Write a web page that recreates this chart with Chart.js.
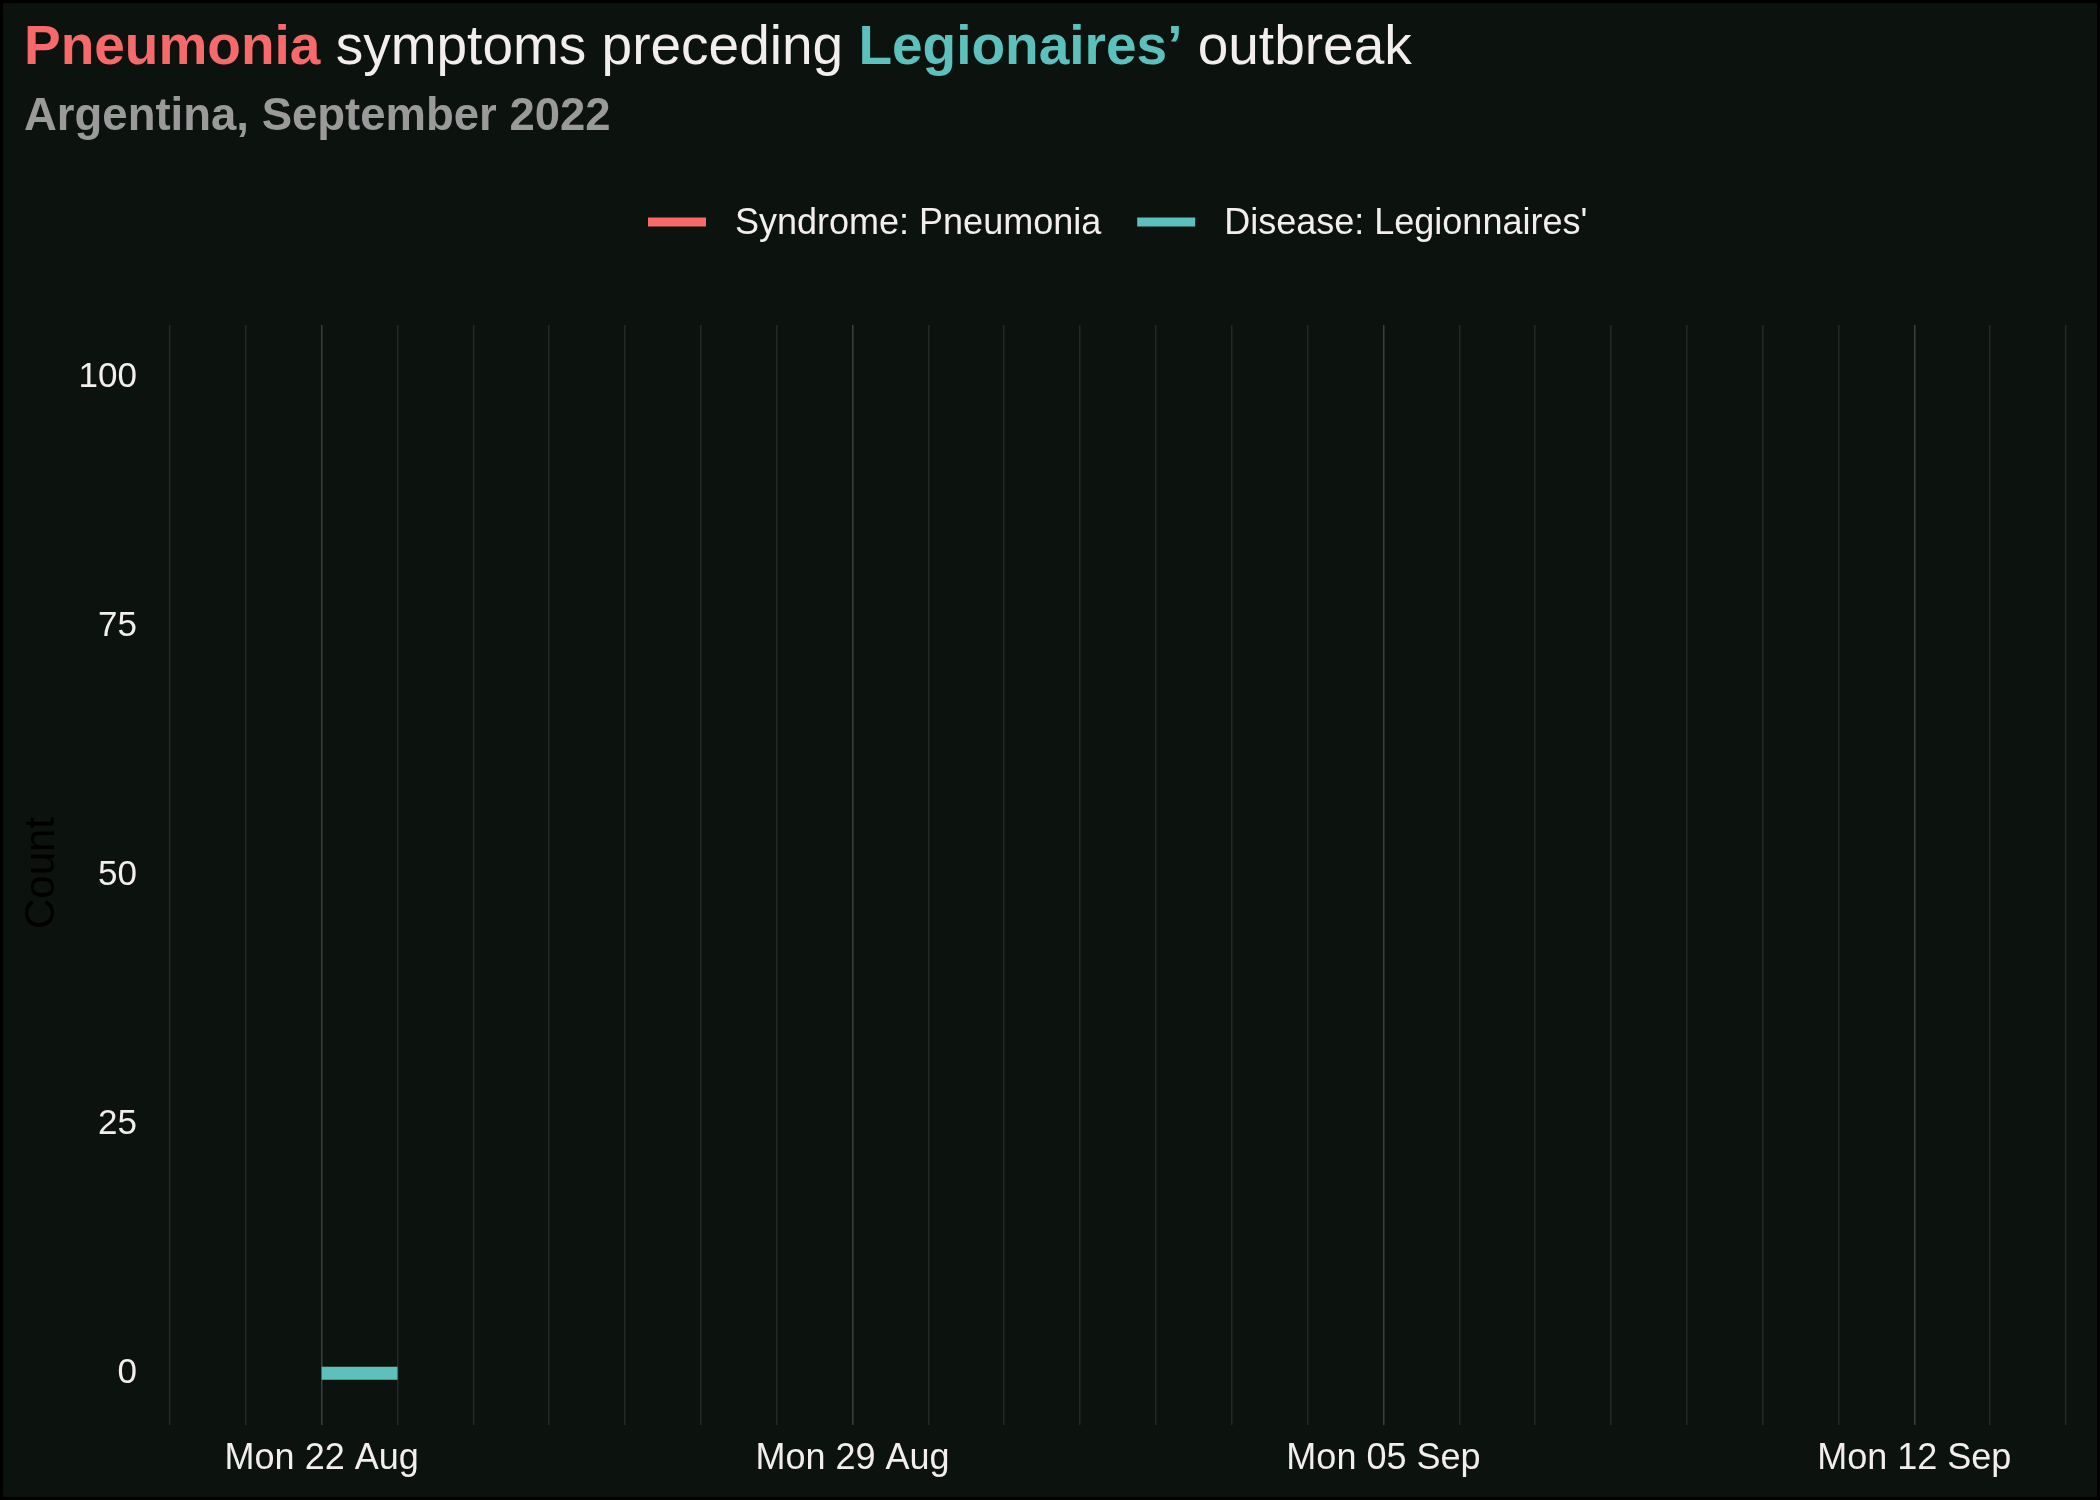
<!DOCTYPE html>
<html lang="en">
<head>
    <meta charset="UTF-8">
    <title>Pneumonia symptoms preceding Legionaires' outbreak</title>
    <script src="https://cdn.jsdelivr.net/npm/chart.js"></script>
    <style>
        body {
            margin: 0;
            padding: 0;
            background: #0c120d;
        }
        canvas {
            display: block;
        }
    </style>
</head>
<body>
    <canvas id="chart" width="2100" height="1500" style="width:2100px;height:1500px"></canvas>

    <script>
        // Data
        const startDate = '2022-08-20';
        const endDate = '2022-09-14';
        const pneumoniaDates = [];
        const pneumoniaCounts = [];
        const legionnairesDates = ['2022-08-22', '2022-08-23'];
        const legionnairesCounts = [0, 0];
        const xTickDates = ['2022-08-22', '2022-08-29', '2022-09-05', '2022-09-12'];
        const xTickLabels = ['Mon 22 Aug', 'Mon 29 Aug', 'Mon 05 Sep', 'Mon 12 Sep'];
        const yTicks = [0, 25, 50, 75, 100];

        const RED = '#f8696b';
        const TEAL = '#5cc1bd';
        const TEXT = '#f3eeee';
        const FONT = '"Liberation Sans", Arial, sans-serif';

        // days since startDate (no date adapter available)
        function dayIndex(d) {
            return (Date.parse(d + 'T00:00:00Z') - Date.parse(startDate + 'T00:00:00Z')) / 86400000;
        }
        const lastDay = dayIndex(endDate);
        const majorDays = xTickDates.map(dayIndex);

        function toPoints(dates, counts) {
            return dates.map((d, i) => ({ x: dayIndex(d), y: counts[i] }));
        }

        // Title, subtitle, legend and axis title drawn on the canvas
        const decorations = {
            id: 'decorations',
            beforeDraw(chart) {
                const c = chart.ctx;
                c.save();
                c.fillStyle = '#0c120d';
                c.fillRect(0, 0, chart.width, chart.height);
                c.restore();
            },
            afterDraw(chart) {
                const c = chart.ctx;
                c.save();

                // title in mixed colours
                const parts = [
                    ['Pneumonia', RED, 'bold'],
                    [' symptoms preceding ', TEXT, 'normal'],
                    ['Legionaires\u2019', TEAL, 'bold'],
                    [' outbreak', TEXT, 'normal']
                ];
                let x = 24;
                c.textBaseline = 'alphabetic';
                c.textAlign = 'left';
                parts.forEach(([t, col, w]) => {
                    c.font = w + ' 55px ' + FONT;
                    c.fillStyle = col;
                    c.fillText(t, x, 64);
                    x += c.measureText(t).width;
                });

                // subtitle
                c.font = 'bold 45.5px ' + FONT;
                c.fillStyle = '#9a9a9a';
                c.fillText('Argentina, September 2022', 24, 130);

                // legend
                c.font = '36px ' + FONT;
                c.textBaseline = 'middle';
                const legendY = 222;
                const items = chart.data.datasets.map(ds => [ds.label, ds.borderColor]);
                let lx = 648;
                items.forEach(([label, col]) => {
                    c.strokeStyle = col;
                    c.lineWidth = 9;
                    c.beginPath();
                    c.moveTo(lx, legendY);
                    c.lineTo(lx + 58, legendY);
                    c.stroke();
                    c.fillStyle = TEXT;
                    c.fillText(label, lx + 87, legendY + 2);
                    lx += 87 + c.measureText(label).width + 36;
                });

                // y axis title
                c.translate(42, 873);
                c.rotate(-Math.PI / 2);
                c.textAlign = 'center';
                c.font = '42px ' + FONT;
                c.fillStyle = '#000000';
                c.fillText('Count', 0, 0);
                c.restore();

                // outer black frame
                c.save();
                c.strokeStyle = '#000000';
                c.lineWidth = 3;
                c.strokeRect(1.5, 1.5, chart.width - 3, chart.height - 3);
                c.restore();
            }
        };

        const ctx = document.getElementById('chart').getContext('2d');
        const chart = new Chart(ctx, {
            type: 'line',
            data: {
                datasets: [
                    {
                        label: 'Syndrome: Pneumonia',
                        data: toPoints(pneumoniaDates, pneumoniaCounts),
                        borderColor: RED,
                        borderWidth: 13,
                        pointRadius: 0,
                        fill: false
                    },
                    {
                        label: "Disease: Legionnaires'",
                        data: toPoints(legionnairesDates, legionnairesCounts),
                        borderColor: TEAL,
                        borderWidth: 13,
                        borderCapStyle: 'butt',
                        pointRadius: 0,
                        fill: false
                    }
                ]
            },
            options: {
                responsive: false,
                animation: false,
                devicePixelRatio: 1,
                layout: {
                    padding: { top: 325, right: 34, left: 0, bottom: 0 }
                },
                plugins: {
                    legend: { display: false },
                    title: { display: false },
                    tooltip: { enabled: false }
                },
                scales: {
                    x: {
                        type: 'linear',
                        min: 0,
                        max: lastDay,
                        afterBuildTicks: scale => {
                            const t = [];
                            for (let d = 0; d <= lastDay; d++) t.push({ value: d });
                            scale.ticks = t;
                        },
                        afterFit: scale => { scale.height = 75; },
                        border: { display: false },
                        grid: {
                            drawTicks: false,
                            lineWidth: 1.5,
                            color: c => majorDays.includes(c.tick.value) ? '#3b403c' : '#232924'
                        },
                        ticks: {
                            autoSkip: false,
                            maxRotation: 0,
                            padding: 12,
                            color: TEXT,
                            font: { family: FONT, size: 36 },
                            callback: v => {
                                const i = majorDays.indexOf(v);
                                return i >= 0 ? xTickLabels[i] : '';
                            }
                        }
                    },
                    y: {
                        min: -5.2,
                        max: 105.3,
                        afterBuildTicks: scale => {
                            scale.ticks = yTicks.map(v => ({ value: v }));
                        },
                        afterFit: scale => { scale.width = 170; },
                        border: { display: false },
                        grid: { display: false, drawTicks: false },
                        ticks: {
                            padding: 33,
                            color: TEXT,
                            font: { family: FONT, size: 35 }
                        }
                    }
                }
            },
            plugins: [decorations]
        });
    </script>
</body>
</html>
